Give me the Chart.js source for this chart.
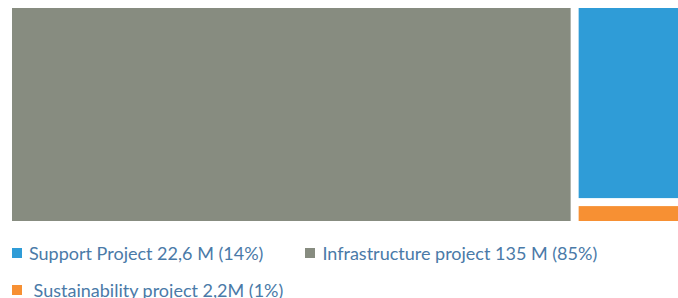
<!DOCTYPE html>
<html><head><meta charset="utf-8">
<script src="https://cdn.jsdelivr.net/npm/chart.js@4/dist/chart.umd.min.js"></script>
<style>
html,body{margin:0;padding:0;background:#fff;width:678px;height:298px;overflow:hidden;}
#wrap{position:absolute;left:0;top:0;width:678px;height:226px;}
#legend{position:absolute;left:12px;top:240px;width:650px;display:flex;flex-wrap:wrap;column-gap:42px;row-gap:11px;font-family:Lato,"Open Sans",sans-serif;font-weight:400;font-size:18px;color:#4a7aa8;}
.item{display:flex;align-items:center;height:26px;white-space:pre;}
.box{width:10px;height:10px;margin-right:7px;flex:none;}
</style>
</head><body>
<div id="wrap"><canvas id="c" width="678" height="226"></canvas></div>
<div id="legend"></div>
<script>
const labels = ["Support Project 22,6 M (14%)", "Infrastructure project 135 M (85%)", " Sustainability project 2,2M (1%)"];
const values = [22.6, 135, 2.2];
const colors = ["#2f9cd7", "#878c80", "#f79033"];
const GAP = 8;

function worst(row, side){
  const s = row.reduce((t,r)=>t+r.a,0);
  const mx = Math.max(...row.map(r=>r.a)), mn = Math.min(...row.map(r=>r.a));
  return Math.max(side*side*mx/(s*s), (s*s)/(side*side*mn));
}
function squarify(items, x, y, w, h){
  const total = items.reduce((s,it)=>s+it.v,0);
  const sc = (w*h)/total;
  let rest = items.map(it=>({i:it.i, a:it.v*sc}));
  const out = [];
  while(rest.length){
    const side = Math.min(w,h);
    const row = [rest[0]]; let n = 1;
    while(n<rest.length && worst(row.concat([rest[n]]),side) <= worst(row,side)){ row.push(rest[n]); n++; }
    rest = rest.slice(n);
    const sum = row.reduce((s,r)=>s+r.a,0);
    if(w>=h){
      const cw = sum/h; let cy = y;
      row.forEach(r=>{const rh=r.a/cw; out.push({i:r.i,x:x,y:cy,w:cw,h:rh}); cy+=rh;});
      x+=cw; w-=cw;
    } else {
      const rh = sum/w; let cx = x;
      row.forEach(r=>{const rw=r.a/rh; out.push({i:r.i,x:cx,y:y,w:rw,h:rh}); cx+=rw;});
      y+=rh; h-=rh;
    }
  }
  return out;
}

const treemapPlugin = {
  id:'treemap',
  beforeDatasetsDraw(chart){
    const {ctx, chartArea:a, scales} = chart;
    const sx = scales.x, sy = scales.y;
    const k = a.width/a.height;
    const items = values.map((v,i)=>({v,i})).sort((p,q)=>q.v-p.v);
    const rects = squarify(items, 0, 0, k, 1);
    const g = GAP/2;
    ctx.save();
    rects.forEach(r=>{
      let x0 = sx.getPixelForValue(r.x/k), x1 = sx.getPixelForValue((r.x+r.w)/k);
      let y0 = sy.getPixelForValue(1-r.y), y1 = sy.getPixelForValue(1-(r.y+r.h));
      if(x0 > a.left+0.5) x0 += g;
      if(x1 < a.right-0.5) x1 -= g;
      if(y0 > a.top+0.5) y0 += g;
      if(y1 < a.bottom-0.5) y1 -= g;
      ctx.fillStyle = colors[r.i];
      ctx.fillRect(x0, y0, x1-x0, y1-y0);
    });
    ctx.restore();
  }
};

new Chart(document.getElementById('c'), {
  type:'scatter',
  data:{datasets:[]},
  options:{
    responsive:false, animation:false,
    layout:{padding:{left:12, top:8, right:0, bottom:5}},
    scales:{
      x:{type:'linear', min:0, max:1, display:false},
      y:{type:'linear', min:0, max:1, display:false}
    },
    plugins:{legend:{display:false}, tooltip:{enabled:false}}
  },
  plugins:[treemapPlugin]
});

const lg = document.getElementById('legend');
labels.forEach((t,i)=>{
  const it = document.createElement('div'); it.className='item';
  const b = document.createElement('span'); b.className='box'; b.style.background=colors[i];
  const s = document.createElement('span'); s.textContent=t;
  it.appendChild(b); it.appendChild(s); lg.appendChild(it);
});
</script>
</body></html>
